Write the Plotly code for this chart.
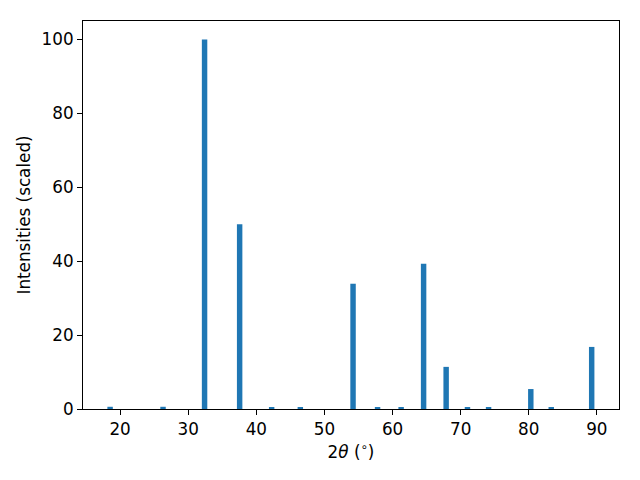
import plotly.graph_objects as go

two_theta = [18.53, 26.3, 32.4, 37.55, 42.25, 46.46, 54.2, 57.8, 61.26, 64.56,
             67.87, 71.0, 74.1, 80.3, 83.3, 89.24]
intensity = [0.6, 0.6, 100.0, 50.0, 0.3, 0.3, 33.9, 0.3, 0.3, 39.3,
             11.4, 0.3, 0.3, 5.4, 0.3, 16.8]
bar_width = 0.8

fig = go.Figure(go.Bar(x=two_theta, y=intensity, width=[bar_width] * len(two_theta),
                       marker=dict(color="#1f77b4", line=dict(width=0))))

axis_common = dict(showline=True, linecolor="black", linewidth=1, mirror=True,
                   ticks="outside", ticklen=5, tickwidth=1, tickcolor="black",
                   showgrid=False, zeroline=False, automargin=False,
                   tickfont=dict(family="DejaVu Sans", size=16.8, color="black"))

fig.update_layout(
    width=640, height=480,
    margin=dict(l=83, r=21, t=21, b=71, autoexpand=False),
    paper_bgcolor="white", plot_bgcolor="white",
    font=dict(family="DejaVu Sans", size=16.8, color="black"),
    showlegend=False,
    xaxis=dict(range=[14.55, 93.25], tickvals=[20, 30, 40, 50, 60, 70, 80, 90],
               title=dict(text="2<i>θ</i> (<sup>∘</sup>)", standoff=8,
                          font=dict(family="DejaVu Sans", size=16.8)),
               **axis_common),
    yaxis=dict(range=[0, 105], tickvals=[0, 20, 40, 60, 80, 100],
               title=dict(text="Intensities (scaled)", standoff=6,
                          font=dict(family="DejaVu Sans", size=16.8)),
               **axis_common),
)

fig.write_html("out.html", config={"displayModeBar": False},
               post_script="document.body.style.margin='0';document.body.style.overflow='hidden';")
